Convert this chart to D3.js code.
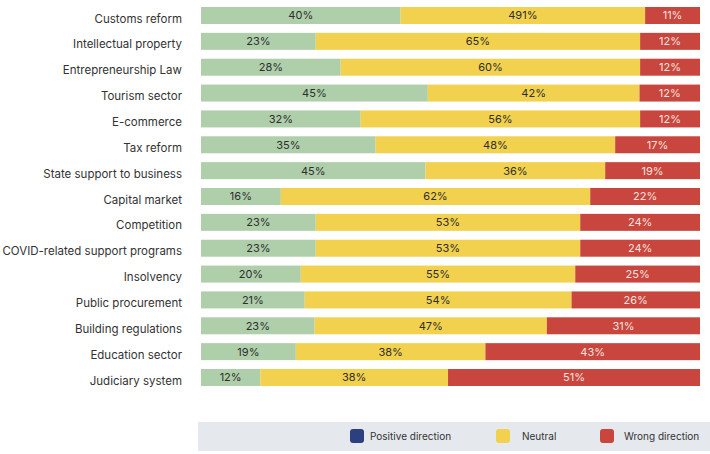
<!DOCTYPE html>
<html>
<head>
<meta charset="utf-8">
<script src="https://cdn.jsdelivr.net/npm/d3@7"></script>
<style>
  html, body { margin: 0; padding: 0; background: #ffffff; }
  svg { display: block; font-family: Inter, "Open Sans", sans-serif; }
</style>
</head>
<body>
<svg id="chart" width="710" height="454"></svg>
<script>
// Survey topics, top to bottom
const categories = [
  "Customs reform", "Intellectual property", "Entrepreneurship Law", "Tourism sector",
  "E-commerce", "Tax reform", "State support to business", "Capital market",
  "Competition", "COVID-related support programs", "Insolvency", "Public procurement",
  "Building regulations", "Education sector", "Judiciary system"
];
// Share of answers per topic (%)
const positive = [40, 23, 28, 45, 32, 35, 45, 16, 23, 23, 20, 21, 23, 19, 12];
const neutral  = [49, 65, 60, 42, 56, 48, 36, 62, 53, 53, 55, 54, 47, 38, 38];
const wrong    = [11, 12, 12, 12, 12, 17, 19, 22, 24, 24, 25, 26, 31, 43, 51];
// Printed label texts that differ from the plain value (as published)
const labelOverrides = { "Customs reform|neutral": "491%" };

const seriesKeys = ["positive", "neutral", "wrong"];
const seriesNames = ["Positive direction", "Neutral", "Wrong direction"];
const barColors = { positive: "#afcfab", neutral: "#f2d14e", wrong: "#c9463e" };
const legendColors = ["#2c3f7f", "#f2d14e", "#c9463e"];
const textColors = { positive: "#2e2e2e", neutral: "#2e2e2e", wrong: "#f6e3df" };

const rows = categories.map((c, i) => ({
  category: c, positive: positive[i], neutral: neutral[i], wrong: wrong[i]
}));

// Each bar spans the full width: shares are normalised by the row total
const stacked = d3.stack()
  .keys(seriesKeys)
  .offset(d3.stackOffsetExpand)(rows);

const svg = d3.select("#chart");

const x = d3.scaleLinear().domain([0, 1]).range([201, 700]);
const y = d3.scaleBand().domain(categories).range([7, 386]).paddingInner(0.343).paddingOuter(0);

// Category axis (labels only)
const yAxis = d3.axisLeft(y).tickSize(0).tickPadding(19);
const gy = svg.append("g").attr("transform", "translate(201,0)").call(yAxis);
gy.select(".domain").remove();
gy.selectAll("text")
  .attr("font-family", "Inter, 'Open Sans', sans-serif")
  .attr("font-size", 11.5)
  .attr("fill", "#333333")
  .attr("dy", "0.62em");

const layers = svg.append("g").selectAll("g")
  .data(stacked)
  .join("g")
  .attr("fill", d => barColors[d.key]);

layers.selectAll("rect")
  .data(d => d.map(s => ({ key: d.key, s })))
  .join("rect")
  .attr("x", d => x(d.s[0]))
  .attr("width", d => x(d.s[1]) - x(d.s[0]))
  .attr("y", d => y(d.s.data.category))
  .attr("height", y.bandwidth());

layers.selectAll("text")
  .data(d => d.map(s => ({ key: d.key, s })))
  .join("text")
  .attr("x", d => (x(d.s[0]) + x(d.s[1])) / 2)
  .attr("y", d => y(d.s.data.category) + y.bandwidth() / 2)
  .attr("dy", "0.36em")
  .attr("text-anchor", "middle")
  .attr("font-size", 11)
  .attr("fill", d => textColors[d.key])
  .text(d => labelOverrides[d.s.data.category + "|" + d.key] || (d.s.data[d.key] + "%"));

// Legend strip
const legend = svg.append("g");
legend.append("rect")
  .attr("x", 198).attr("y", 422).attr("width", 512).attr("height", 29)
  .attr("fill", "#e5e8ed");

const legendX = d3.scaleOrdinal().domain(seriesNames).range([350, 496, 600]);
const items = legend.selectAll("g.item")
  .data(seriesNames)
  .join("g")
  .attr("class", "item")
  .attr("transform", d => `translate(${legendX(d)},429)`);
items.append("rect")
  .attr("width", 14).attr("height", 14).attr("rx", 3)
  .attr("fill", (d, i) => legendColors[i]);
items.append("text")
  .attr("x", (d, i) => [20, 26, 24][i])
  .attr("y", 7).attr("dy", "0.35em")
  .attr("font-size", 10)
  .attr("fill", "#333333")
  .text(d => d);
</script>
</body>
</html>
